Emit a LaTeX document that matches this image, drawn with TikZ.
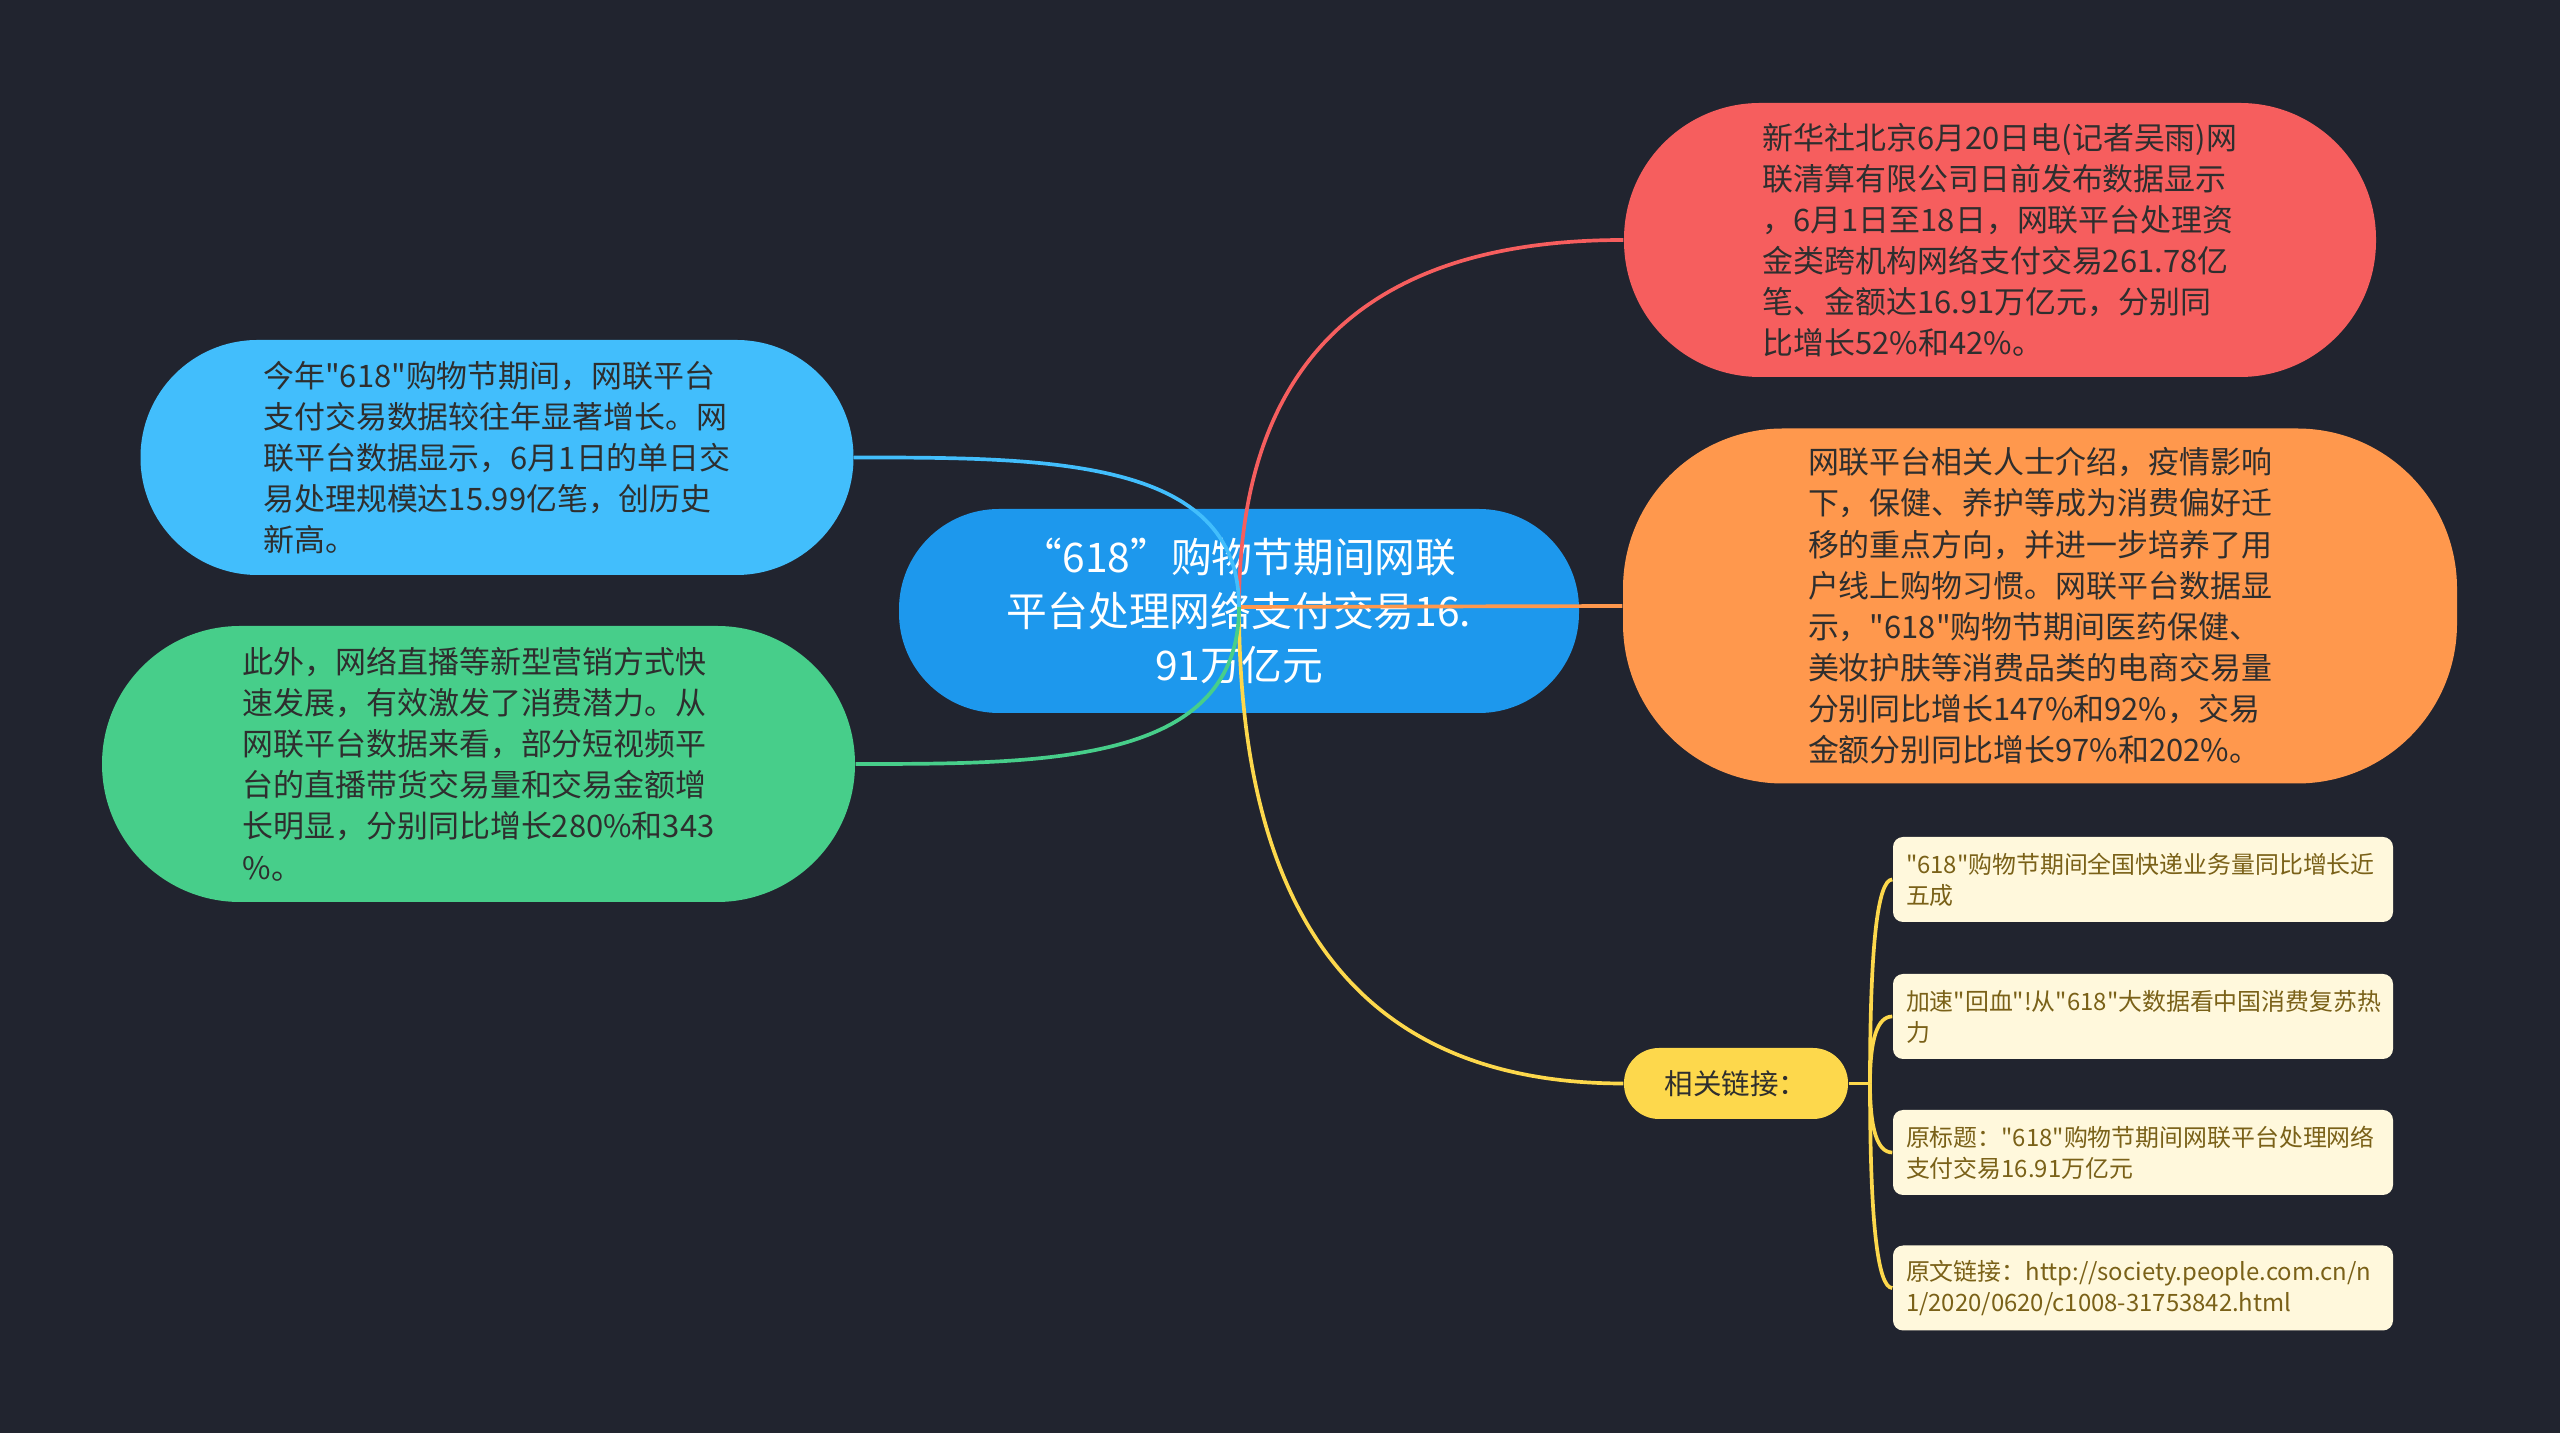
\documentclass[tikz,border=0pt]{standalone}
\usepackage{fontspec}
\newfontfamily\cjk{Noto Sans CJK SC}
\usetikzlibrary{calc}
\definecolor{bg}{HTML}{21242F}
\definecolor{mainblue}{HTML}{1D98ED}
\definecolor{skyblue}{HTML}{42BEFC}
\definecolor{mint}{HTML}{47CE8A}
\definecolor{coral}{HTML}{F65E5E}
\definecolor{peach}{HTML}{FF984D}
\definecolor{sun}{HTML}{FDD84C}
\definecolor{cream}{HTML}{FFF8DC}
\definecolor{linktext}{HTML}{7A6118}
\definecolor{ink}{HTML}{2E2E2E}

\tikzset{
  topic/.style={fill=#1, text=ink, align=left, inner sep=0pt,
    font=\cjk\fontsize{8.8pt}{11.7pt}\selectfont},
  linkbox/.style={fill=cream, text=linktext, rounded corners=0.1cm,
    minimum width=5cm, minimum height=0.85cm, text width=4.74cm,
    align=left, inner xsep=0.13cm, font=\cjk\fontsize{6.8pt}{8.8pt}\selectfont},
  branch/.style={draw=#1, line width=1.05pt},
}

\begin{document}
\begin{tikzpicture}
\fill[bg] (0,0) rectangle (25.6,-14.33);
% central topic
\node[fill=mainblue, text=white, align=center, minimum width=6.8cm, minimum height=2.04cm,
  rounded corners=1.0cm, font=\cjk\fontsize{11.6pt}{15.3pt}\selectfont] (main) at (12.39,-6.11)
  {“618”购物节期间网联\\平台处理网络支付交易16.\\91万亿元};
% right side
\node[topic=coral, minimum width=7.52cm, minimum height=2.74cm, rounded corners=1.36cm] (news) at (20.00,-2.40)
  {新华社北京6月20日电(记者吴雨)网\\联清算有限公司日前发布数据显示\\，6月1日至18日，网联平台处理资\\金类跨机构网络支付交易261.78亿\\笔、金额达16.91万亿元，分别同\\比增长52\%和42\%。};
\node[topic=peach, minimum width=8.34cm, minimum height=3.55cm, rounded corners=1.6cm] (habit) at (20.40,-6.06)
  {网联平台相关人士介绍，疫情影响\\下，保健、养护等成为消费偏好迁\\移的重点方向，并进一步培养了用\\户线上购物习惯。网联平台数据显\\示，"618"购物节期间医药保健、\\美妆护肤等消费品类的电商交易量\\分别同比增长147\%和92\%，交易\\金额分别同比增长97\%和202\%。};
\node[topic=sun, minimum width=2.24cm, minimum height=0.71cm, rounded corners=0.35cm,
  font=\cjk\fontsize{8.1pt}{10pt}\selectfont] (links) at (17.36,-10.835) {相关链接：};
% left side
\node[topic=skyblue, minimum width=7.13cm, minimum height=2.35cm, rounded corners=1.17cm] (growth) at (4.97,-4.575)
  {今年"618"购物节期间，网联平台\\支付交易数据较往年显著增长。网\\联平台数据显示，6月1日的单日交\\易处理规模达15.99亿笔，创历史\\新高。};
\node[topic=mint, minimum width=7.53cm, minimum height=2.76cm, rounded corners=1.38cm] (live) at (4.785,-7.64)
  {此外，网络直播等新型营销方式快\\速发展，有效激发了消费潜力。从\\网联平台数据来看，部分短视频平\\台的直播带货交易量和交易金额增\\长明显，分别同比增长280\%和343\\\%。};
% link boxes
\node[linkbox] (l1) at (21.43,-8.795) {"618"购物节期间全国快递业务量同比增长近\\五成};
\node[linkbox] (l2) at (21.43,-10.165) {加速"回血"!从"618"大数据看中国消费复苏热\\力};
\node[linkbox] (l3) at (21.43,-11.525) {原标题："618"购物节期间网联平台处理网络\\支付交易16.91万亿元};
\node[linkbox] (l4) at (21.43,-12.88) {原文链接：http://society.people.com.cn/n\\1/2020/0620/c1008-31753842.html};

% connectors
\coordinate (hub) at (12.39,-6.07);
\draw[branch=coral] (hub) .. controls ($(hub)!0.667!(hub |- news.west)$) and ($(news.west)!0.667!(hub |- news.west)$) .. (news.west);
\draw[branch=peach] (hub) -- (habit.west);
\draw[branch=sun] (hub) .. controls ($(hub)!0.667!(hub |- links.west)$) and ($(links.west)!0.667!(hub |- links.west)$) .. (links.west);
\draw[branch=skyblue] (hub) .. controls (hub |- growth.east) and ($(hub |- growth.east)!0.5!(growth.east)$) .. (growth.east);
\draw[branch=mint] (hub) .. controls (hub |- live.east) and ($(hub |- live.east)!0.5!(live.east)$) .. (live.east);

\coordinate (fork) at (18.70,-10.835);
\draw[branch=sun] (links.east) -- (fork);
\foreach \b in {l1,l2,l3,l4}
  \draw[branch=sun] (fork) .. controls ($(fork)!0.667!(fork |- \b.west)$) and ($(\b.west)!0.667!(fork |- \b.west)$) .. (\b.west);
\end{tikzpicture}
\end{document}
